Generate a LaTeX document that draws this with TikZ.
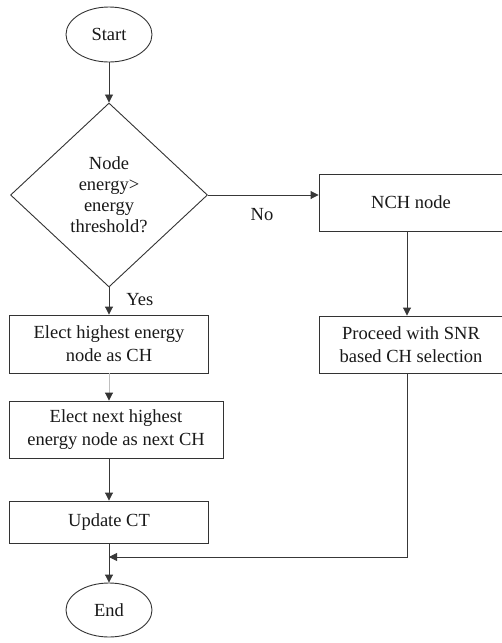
\documentclass[tikz,border=0pt]{standalone}
\usepackage{fontspec}
\setmainfont{Liberation Serif}
\usetikzlibrary{shapes.geometric,arrows.meta}
\begin{document}
\begin{tikzpicture}[x=1pt,y=-1pt,
  every node/.style={font=\fontsize{18.5}{23}\selectfont, inner sep=0pt, text=black!90},
  line/.style={draw=black!78, line width=0.9pt},
  arr/.style={line, -{Triangle[length=8pt,width=8pt]}},
  term/.style={ellipse, draw=black!80, line width=0.9pt, minimum width=86pt, minimum height=55pt},
  proc/.style={rectangle, draw=black!80, line width=0.9pt, align=center},
  lbl/.style={font=\fontsize{18.5}{23}\selectfont},
  ]
\useasboundingbox (0,0) rectangle (502,643);
\clip (0,0) rectangle (502,643);
\fill[white] (0,0) rectangle (502,643);

\node[term] (start) at (109,34.5) {Start};
\node[diamond, draw=black!80, line width=0.9pt, minimum width=197pt, minimum height=184pt,
      align=center, font=\fontsize{18.5}{21}\selectfont] (dec) at (109,195)
      {Node\\energy>\\energy\\threshold?};
\node[proc, minimum width=199pt, minimum height=58pt] (b1) at (109,344) {Elect highest energy\\node as CH};
\node[proc, minimum width=214pt, minimum height=57pt] (b2) at (116,429.5) {Elect next highest\\energy node as next CH};
\node[proc, minimum width=199pt, minimum height=42pt] (b3) at (109,522) {Update CT};
\node[term, minimum height=54pt] (end) at (109,610) {End};
\node[proc, minimum width=184pt, minimum height=57pt] (nch) at (411,202.5) {NCH node};
\node[proc, minimum width=184pt, minimum height=57pt] (snr) at (411,344.5) {Proceed with SNR\\based CH selection};

\coordinate (rc) at (407,0);
\coordinate (j) at (109,557);

\draw[arr] (start) -- (dec);
\draw[arr] (dec) -- (b1) node[lbl, pos=0.45, right=17pt] (yes) {Yes};
\draw[line, draw=black!25, -{Triangle[length=8pt,width=8pt,color=black!80]}] (b1) -- (b1.south |- b2.north);
\draw[arr] (b1.south |- b2.south) -- (b3);
\draw[arr] (b3) -- (end);
\draw[arr] (dec.east) -- (dec.east -| nch.west);
\node[lbl] (no) at (262,215) {No};
\draw[arr] (nch.south -| rc) -- (snr.north -| rc);
\draw[arr] (snr.south -| rc) |- (j);
\end{tikzpicture}
\end{document}
